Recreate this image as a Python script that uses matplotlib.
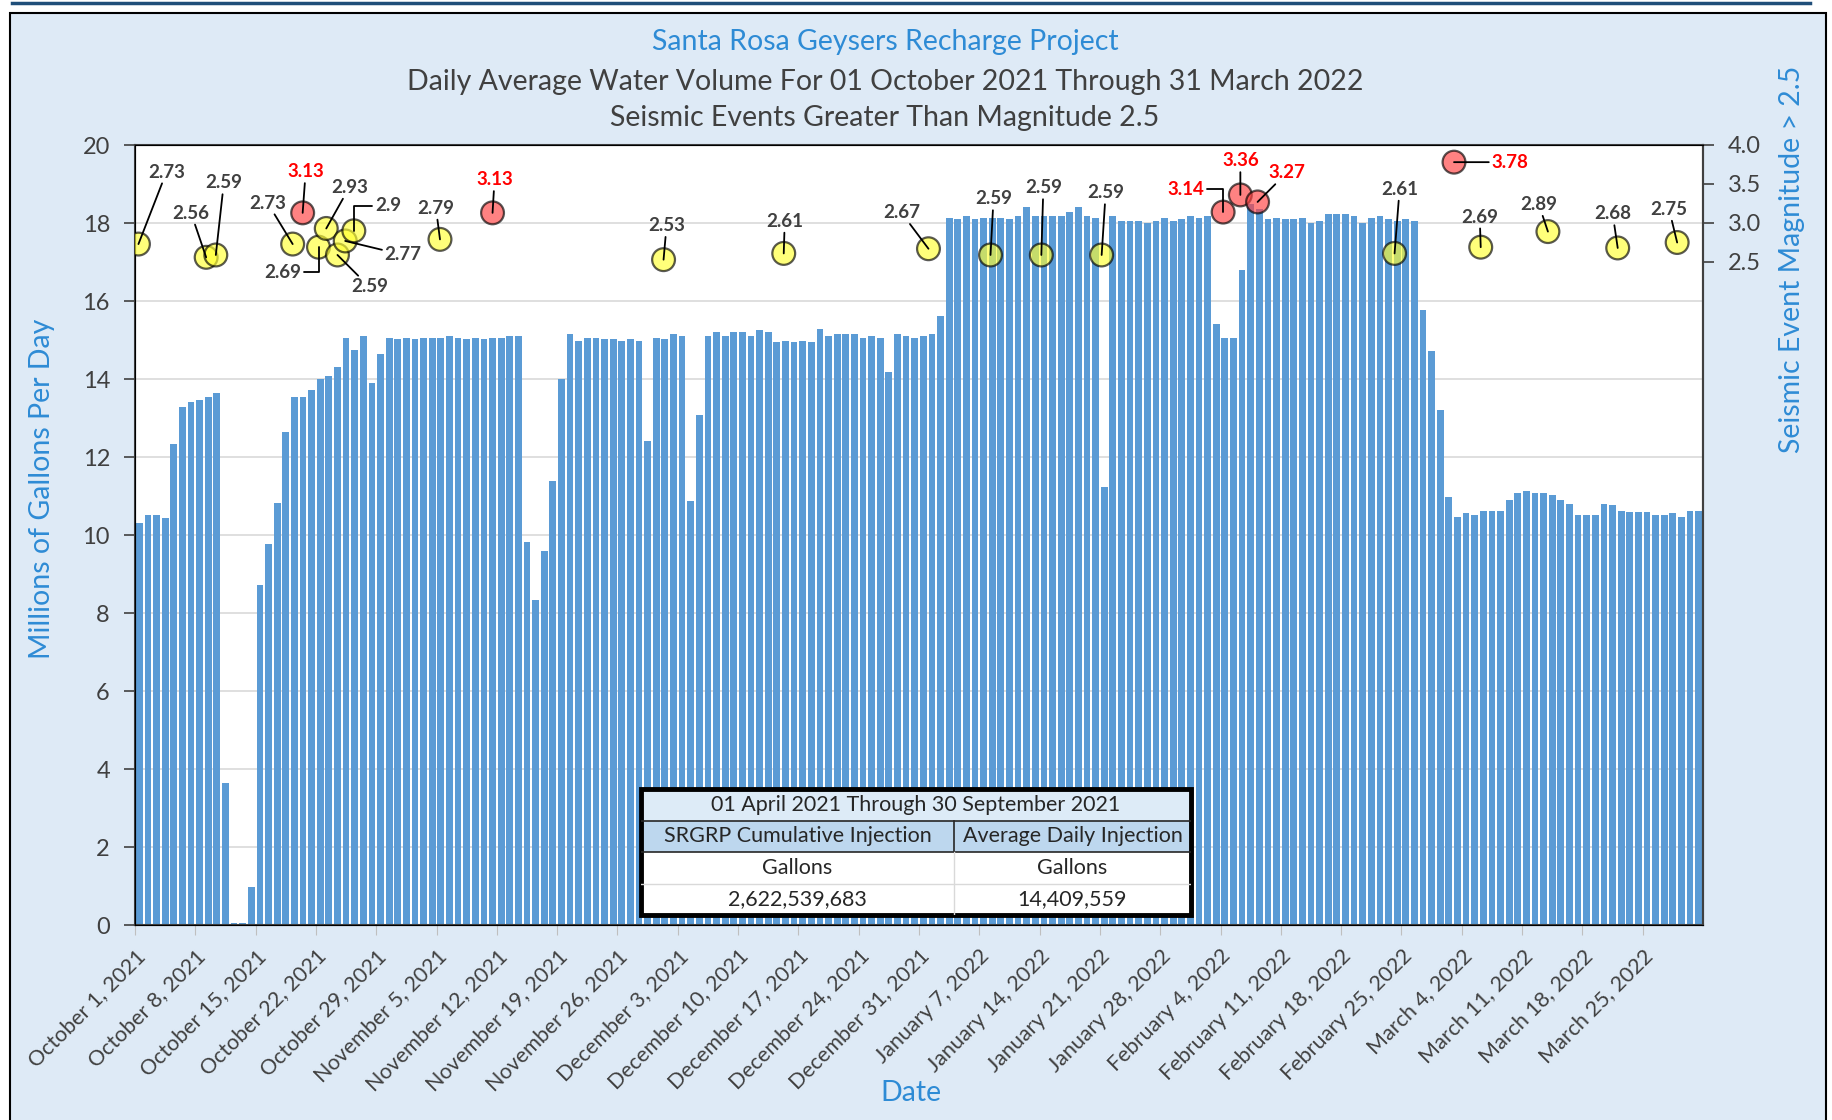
import numpy as np
import pandas as pd
import matplotlib
matplotlib.use("Agg")
import matplotlib.pyplot as plt
from matplotlib.patches import Rectangle
from matplotlib.lines import Line2D

plt.rcParams['font.family'] = ['Lato', 'DejaVu Sans']

# ── Daily average water volume (millions of gallons per day), 01 Oct 2021 - 31 Mar 2022
days = pd.date_range("2021-10-01", "2022-03-31", freq="D")

water_oct = [10.31, 10.51, 10.51, 10.43, 12.34, 13.28, 13.41, 13.47, 13.55, 13.63,
             3.65, 0.05, 0.05, 0.98, 8.73, 9.77, 10.82, 12.64, 13.55, 13.55,
             13.73, 13.99, 14.07, 14.32, 15.06, 14.75, 15.11, 13.90, 14.63, 15.06, 15.02]
water_nov = [15.06, 15.02, 15.06, 15.06, 15.06, 15.11, 15.06, 15.02, 15.06, 15.02,
             15.06, 15.06, 15.11, 15.11, 9.81, 8.34, 9.60, 11.38, 13.99, 15.15,
             14.98, 15.06, 15.06, 15.02, 15.02, 14.98, 15.02, 14.98, 12.41, 15.06]
water_dec = [15.02, 15.15, 15.11, 10.86, 13.07, 15.11, 15.21, 15.11, 15.21, 15.21,
             15.11, 15.25, 15.21, 14.94, 14.98, 14.94, 14.98, 14.94, 15.29, 15.11,
             15.15, 15.15, 15.15, 15.06, 15.11, 15.06, 14.19, 15.15, 15.11, 15.06, 15.11]
water_jan = [15.15, 15.62, 18.14, 18.10, 18.19, 18.10, 18.14, 18.14, 18.14, 18.10,
             18.19, 18.41, 18.19, 18.19, 18.19, 18.19, 18.29, 18.41, 18.19, 18.14,
             11.24, 18.19, 18.05, 18.05, 18.05, 17.99, 18.05, 18.14, 18.05, 18.10, 18.19]
water_feb = [18.14, 18.19, 15.41, 15.06, 15.06, 16.80, 18.50, 18.37, 18.10, 18.14,
             18.10, 18.10, 18.14, 17.99, 18.05, 18.23, 18.23, 18.23, 18.19, 17.99,
             18.14, 18.19, 18.10, 18.05, 18.10, 18.05, 15.76, 14.71]
water_mar = [13.20, 10.98, 10.47, 10.56, 10.51, 10.62, 10.62, 10.62, 10.90, 11.08,
             11.12, 11.08, 11.08, 11.03, 10.90, 10.80, 10.51, 10.51, 10.51, 10.80,
             10.76, 10.62, 10.58, 10.58, 10.58, 10.51, 10.51, 10.56, 10.47, 10.62, 10.62]
water = water_oct + water_nov + water_dec + water_jan + water_feb + water_mar

# ── Seismic events > M2.5 (day number counted from 01 Oct = 1, magnitude)
ev_day = [0.9, 8.76, 9.88, 18.8, 19.96, 21.8, 22.7, 24.0, 24.9, 25.9, 35.9, 42.0,
          61.85, 75.8, 92.6, 99.8, 105.7, 112.7, 126.8, 128.8, 130.8,
          146.7, 153.6, 156.7, 164.5, 172.6, 179.5]
ev_mag = [2.73, 2.56, 2.59, 2.73, 3.13, 2.69, 2.93, 2.59, 2.77, 2.90, 2.79, 3.13,
          2.53, 2.61, 2.67, 2.59, 2.59, 2.59, 3.14, 3.36, 3.27,
          2.61, 3.78, 2.69, 2.89, 2.68, 2.75]
ev_label = ["2.73", "2.56", "2.59", "2.73", "3.13", "2.69", "2.93", "2.59", "2.77", "2.9",
            "2.79", "3.13", "2.53", "2.61", "2.67", "2.59", "2.59", "2.59", "3.14", "3.36",
            "3.27", "2.61", "3.78", "2.69", "2.89", "2.68", "2.75"]
# label placement (pixels from the marker) and elbow leaders
lab_off = [(28, 72), (-15, 44), (8, 72), (-25, 41), (3, 41), (-36, -25), (23, 41),
           (32, -32), (58, -14), (34, 25), (-4, 31), (2, 33), (3, 34), (1, 32),
           (-27, 36), (3, 56), (2, 67), (4, 62), (-37, 23), (0, 34), (29, 29),
           (5, 64), (56, 0), (-1, 30), (-9, 27), (-5, 34), (-8, 33)]
elbow = {5, 9, 18}

# ── Summary table
tbl_title = "01 April 2021 Through 30 September 2021"
tbl_head = ["SRGRP Cumulative Injection", "Average Daily Injection"]
tbl_units = ["Gallons", "Gallons"]
tbl_vals = ["2,622,539,683", "14,409,559"]

BLUE_TXT = "#2E8BD5"
DARK = "#404040"
W, H = 1833, 1120

fig = plt.figure(figsize=(W / 100, H / 100), dpi=100)
fig.patch.set_facecolor("white")
fig.patches.append(Rectangle((10 / W, -0.01), (1826 - 10) / W, 1.01 - 13 / H,
                             transform=fig.transFigure, facecolor="#DEEAF6",
                             edgecolor="black", lw=1.5, zorder=-5))
fig.add_artist(Line2D([12 / W, 1810 / W], [1 - 3 / H] * 2, color="#1F4E79", lw=2.5))

ax = fig.add_axes([135 / W, 1 - 925 / H, (1703 - 135) / W, (925 - 145) / H])
x = np.arange(len(water))
ax.bar(x, water, width=0.78, color="#5B9BD5", zorder=2)
ax.set_xlim(-0.5, len(water) - 0.5)
ax.set_ylim(0, 20)
ax.set_yticks(np.arange(0, 21, 2))
ax.set_axisbelow(True)
ax.grid(axis="y", color="#D9D9D9", lw=1.2)
ax.set_facecolor("white")

tick_idx = x[::7]
ax.set_xticks(tick_idx - 0.5)
ax.set_xticklabels([f"{d:%B} {d.day}, {d.year}" for d in days[::7]],
                   rotation=45, ha="right", rotation_mode="anchor", fontsize=15.5, color=DARK)
ax.tick_params(axis="x", length=7, color="#BFBFBF", pad=8)
ax.tick_params(axis="y", length=8, color=DARK, labelsize=17, labelcolor=DARK, width=1.2, pad=10)
for s in ["left", "bottom", "top", "right"]:
    ax.spines[s].set_color(DARK)
    ax.spines[s].set_linewidth(1.5)

ax2 = ax.twinx()
ax2.set_ylim(-6, 4)
ax2.set_yticks([2.5, 3.0, 3.5, 4.0])
ax2.set_yticklabels(["2.5", "3.0", "3.5", "4.0"])
ax2.tick_params(axis="y", length=8, color=DARK, labelsize=17, labelcolor=DARK, width=1.2, pad=10)
ax2.spines["right"].set_color(DARK)
ax2.spines["right"].set_linewidth(1.5)

ev_x = np.array(ev_day) - 1
ev_col = ["#FF4040" if m >= 3 else "#FFFF33" for m in ev_mag]
ax2.scatter(ev_x, ev_mag, s=270, c=ev_col, alpha=0.65, edgecolors="black",
            linewidths=1.6, zorder=3)
for i, (ex, m, lab) in enumerate(zip(ev_x, ev_mag, ev_label)):
    cs = "angle,angleA=0,angleB=90,rad=0" if i in elbow else "arc3"
    ax2.annotate(lab, xy=(ex, m), xytext=lab_off[i], textcoords="offset pixels",
                 ha="center", va="center", fontsize=13.5, fontweight="bold",
                 color="#FF0000" if m >= 3 else DARK,
                 arrowprops=dict(arrowstyle="-", color="black", lw=1.3,
                                 shrinkA=0, shrinkB=0, connectionstyle=cs),
                 zorder=4)

fig.text(885 / W, 1 - 42 / H, "Santa Rosa Geysers Recharge Project", ha="center", va="center",
         fontsize=20.5, color=BLUE_TXT)
fig.text(885 / W, 1 - 82 / H, "Daily Average Water Volume For 01 October 2021 Through 31 March 2022",
         ha="center", va="center", fontsize=20.5, color=DARK)
fig.text(885 / W, 1 - 118 / H, "Seismic Events Greater Than Magnitude 2.5", ha="center", va="center",
         fontsize=20.5, color=DARK)
fig.text(42 / W, 1 - 489 / H, "Millions of Gallons Per Day", rotation=90, ha="center", va="center",
         fontsize=20.5, color=BLUE_TXT)
fig.text(1792 / W, 1 - 259 / H, "Seismic Event Magnitude > 2.5", rotation=90, ha="center", va="center",
         fontsize=20.5, color=BLUE_TXT)
fig.text(911 / W, 1 - 1093 / H, "Date", ha="center", va="center", fontsize=20.5, color=BLUE_TXT)

# summary table drawn on its own axes above the chart
tx = fig.add_axes([641 / W, 1 - 915 / H, 550 / W, 126 / H])
tx.set_xlim(0, 1)
tx.set_ylim(0, 4)
tx.axis("off")
split = (954 - 641) / 550
tx.add_patch(Rectangle((0, 3), 1, 1, facecolor="#DDEBF7", edgecolor="none"))
tx.add_patch(Rectangle((0, 2), 1, 1, facecolor="#BDD7EE", edgecolor="none"))
tx.add_patch(Rectangle((0, 0), 1, 2, facecolor="white", edgecolor="none"))
tx.plot([0, 1], [3, 3], color="#262626", lw=1.2)
tx.plot([0, 1], [2, 2], color="#262626", lw=1.2)
tx.plot([0, 1], [1, 1], color="#D9D9D9", lw=1.0)
tx.plot([split, split], [2, 3], color="#262626", lw=1.2)
tx.plot([split, split], [0, 2], color="#D9D9D9", lw=1.0)
tx.add_patch(Rectangle((0, 0), 1, 4, facecolor="none", edgecolor="black", lw=3.5, clip_on=False))
tx.text(0.5, 3.5, tbl_title, ha="center", va="center", fontsize=15.5, color="#262626")
for j, xc in enumerate([split / 2, (1 + split) / 2]):
    tx.text(xc, 2.5, tbl_head[j], ha="center", va="center", fontsize=15.5, color="#262626")
    tx.text(xc, 1.5, tbl_units[j], ha="center", va="center", fontsize=15.5, color="#262626")
    tx.text(xc, 0.5, tbl_vals[j], ha="center", va="center", fontsize=15.5, color="#262626")

fig.savefig("out.png", dpi=100)
